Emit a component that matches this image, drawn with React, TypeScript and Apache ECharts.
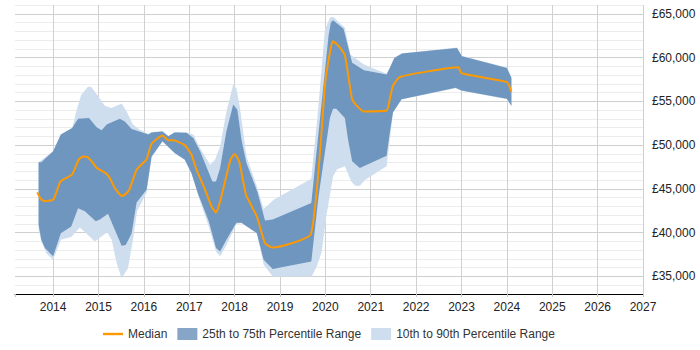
import React, { useEffect, useRef } from "react";
import * as echarts from "echarts";

// Years run as decimal values along the x axis; salaries in GBP.
const yearTicks = [2014, 2015, 2016, 2017, 2018, 2019, 2020, 2021, 2022, 2023, 2024, 2025, 2026, 2027];

const median: [number, number][] = [
  [2013.65, 44600], [2013.73, 43850], [2013.82, 43600], [2014.0, 43750], [2014.07, 44600],
  [2014.16, 45850], [2014.29, 46250], [2014.42, 46650], [2014.57, 48400], [2014.66, 48700],
  [2014.75, 48650], [2014.85, 48150], [2014.97, 47350], [2015.16, 46800], [2015.25, 46250],
  [2015.36, 45100], [2015.51, 44200], [2015.58, 44350], [2015.68, 44900], [2015.84, 47200],
  [2016.06, 48400], [2016.17, 50150], [2016.41, 51100], [2016.54, 50550], [2016.65, 50550],
  [2016.9, 50000], [2017.05, 48900], [2017.16, 47200], [2017.35, 44900], [2017.49, 43000],
  [2017.59, 42300], [2017.68, 43550], [2017.91, 48350], [2018.0, 49000], [2018.1, 48150],
  [2018.25, 44350], [2018.49, 41850], [2018.67, 38800], [2018.84, 38300], [2019.68, 39850],
  [2020.0, 57300], [2020.1, 60550], [2020.16, 61850], [2020.26, 61500], [2020.43, 60250],
  [2020.59, 55250], [2020.74, 54250], [2020.85, 53850], [2021.35, 53950], [2021.42, 55250],
  [2021.49, 56800], [2021.65, 57800], [2022.93, 58900], [2023.0, 58200], [2024.0, 57200],
  [2024.1, 56100],
];

const p75: [number, number][] = [
  [2013.68, 48050], [2013.74, 48050], [2014.0, 49300], [2014.17, 51200], [2014.42, 51950],
  [2014.55, 53000], [2014.79, 53100], [2014.96, 52050], [2015.07, 51700], [2015.18, 52350],
  [2015.47, 53000], [2015.58, 52700], [2015.73, 51850], [2016.1, 51200], [2016.17, 51450],
  [2016.41, 51550], [2016.54, 51000], [2016.68, 51450], [2016.94, 51400], [2017.09, 50800],
  [2017.24, 49300], [2017.51, 45850], [2017.59, 45850], [2017.68, 47400], [2017.82, 51600],
  [2017.97, 54650], [2018.06, 54050], [2018.15, 50650], [2018.26, 47950], [2018.5, 44700],
  [2018.67, 41400], [2018.84, 41500], [2019.69, 43400], [2020.07, 62500], [2020.12, 64000],
  [2020.17, 64250], [2020.4, 63300], [2020.59, 59400], [2020.85, 58550], [2021.35, 58050],
  [2021.42, 58800], [2021.52, 59950], [2021.69, 60450], [2022.9, 61100], [2023.01, 60150],
  [2024.0, 58800], [2024.1, 57700],
];

const p25: [number, number][] = [
  [2013.68, 40900], [2013.74, 39200], [2013.82, 38250], [2014.0, 37300], [2014.17, 39950],
  [2014.4, 40700], [2014.55, 42800], [2014.7, 42450], [2014.94, 41300], [2015.03, 41500],
  [2015.21, 42150], [2015.36, 40350], [2015.51, 38500], [2015.6, 38600], [2015.73, 39950],
  [2015.84, 43450], [2016.06, 44900], [2016.17, 48700], [2016.41, 50450], [2016.68, 49100],
  [2016.9, 48350], [2017.05, 46800], [2017.2, 44350], [2017.43, 41300], [2017.59, 38250],
  [2017.68, 37850], [2017.82, 39200], [2018.04, 41150], [2018.15, 41150], [2018.49, 39950],
  [2018.64, 36900], [2018.84, 35850], [2019.69, 36700], [2019.85, 44150], [2020.1, 53100],
  [2020.17, 54150], [2020.24, 54150], [2020.43, 53100], [2020.5, 50650], [2020.59, 48150],
  [2020.76, 47400], [2021.35, 48800], [2021.42, 51400], [2021.49, 53750], [2021.68, 55250],
  [2022.87, 56550], [2023.0, 56250], [2024.0, 55300], [2024.1, 54500],
];

const p90: [number, number][] = [
  [2013.68, 48050], [2014.0, 49300], [2014.17, 51200], [2014.42, 51950], [2014.52, 54050],
  [2014.62, 55750], [2014.77, 56700], [2014.84, 56650], [2014.99, 55600], [2015.14, 54500],
  [2015.28, 54250], [2015.4, 54500], [2015.51, 54750], [2015.62, 53850], [2015.76, 52350],
  [2015.91, 51750], [2016.1, 51300], [2016.17, 51500], [2016.41, 51600], [2016.54, 51050],
  [2016.68, 51500], [2016.94, 51450], [2017.09, 51200], [2017.24, 49650], [2017.46, 47750],
  [2017.57, 48350], [2017.68, 49850], [2017.82, 53850], [2017.97, 56950], [2018.04, 56500],
  [2018.12, 54200], [2018.26, 48700], [2018.49, 45300], [2018.64, 42700], [2018.86, 43750],
  [2019.69, 46150], [2019.84, 54050], [2019.99, 63200], [2020.1, 64550], [2020.17, 64650],
  [2020.43, 63400], [2020.55, 60350], [2020.85, 59200], [2021.35, 58150], [2021.42, 58850],
  [2021.52, 60000], [2021.69, 60500], [2022.9, 61150], [2023.01, 60200], [2024.0, 58850],
  [2024.1, 57750],
];

const p10: [number, number][] = [
  [2013.68, 40400], [2013.74, 39000], [2013.85, 37650], [2014.0, 36900], [2014.17, 39200],
  [2014.4, 39500], [2014.59, 40600], [2014.92, 39000], [2015.19, 40050], [2015.29, 39200],
  [2015.4, 36500], [2015.51, 34800], [2015.65, 35950], [2015.76, 39200], [2015.85, 42450],
  [2016.06, 44550], [2016.17, 48550], [2016.41, 50400], [2016.68, 49050], [2016.9, 48300],
  [2017.05, 46750], [2017.2, 44150], [2017.43, 40700], [2017.59, 37850], [2017.68, 37300],
  [2017.82, 38600], [2018.04, 41000], [2018.15, 41100], [2018.49, 39900], [2018.64, 36350],
  [2018.84, 35000], [2019.7, 35000], [2019.81, 36150], [2019.92, 37850], [2020.02, 41850],
  [2020.17, 46450], [2020.26, 47250], [2020.43, 47600], [2020.57, 45850], [2020.66, 45350],
  [2020.76, 45350], [2020.88, 46050], [2021.35, 47600], [2021.42, 50650], [2021.49, 53700],
  [2021.68, 55200], [2022.87, 56500], [2023.0, 56200], [2024.0, 55250], [2024.1, 54400],
];

const MEDIAN_NAME = "Median";
const IQR_NAME = "25th to 75th Percentile Range";
const WIDE_NAME = "10th to 90th Percentile Range";

const FONT = "'Liberation Sans', Arial, Helvetica, sans-serif";

// A filled band between an upper and a lower curve, drawn as one polygon
// projected through the cartesian axes.
function bandSeries(name: string, upper: [number, number][], lower: [number, number][], fill: string, z: number) {
  return {
    name,
    type: "custom",
    silent: true,
    z,
    itemStyle: { color: fill },
    data: upper,
    encode: { x: 0, y: 1 },
    renderItem: (params: any, api: any) => {
      if (params.dataIndex !== 0) return null;
      const pts = [
        ...upper.map((p) => api.coord(p)),
        ...lower.slice().reverse().map((p) => api.coord(p)),
      ];
      return { type: "polygon", shape: { points: pts }, style: { fill, stroke: "none" } };
    },
  };
}

export default function App() {
  const ref = useRef<HTMLDivElement>(null);

  useEffect(() => {
    if (!ref.current) return;
    const chart = echarts.init(ref.current, null, { renderer: "svg" });
    chart.setOption({
      animation: false,
      backgroundColor: "#ffffff",
      textStyle: { fontFamily: FONT },
      grid: { left: 15, right: 57, top: 5, bottom: 56, containLabel: false, outerBoundsMode: "none" },
      legend: {
        left: 103,
        top: 328,
        padding: 0,
        itemWidth: 20,
        itemHeight: 12,
        itemGap: 10,
        textStyle: { color: "#333", fontSize: 12, fontFamily: FONT },
        data: [
          { name: MEDIAN_NAME, icon: "path://M0,0H20V2.4H0Z", itemStyle: { color: "#ff9900" } },
          { name: IQR_NAME, icon: "rect", itemStyle: { color: "#87a5c6" } },
          { name: WIDE_NAME, icon: "rect", itemStyle: { color: "#cfdeee" } },
        ],
      },
      xAxis: {
        type: "value",
        min: 2013.16,
        max: yearTicks[yearTicks.length - 1],
        splitNumber: 14,
        axisLine: { show: true, onZero: false, lineStyle: { color: "#000", width: 1 } },
        axisTick: { show: true, length: 3, lineStyle: { color: "#c8c8c8" } },
        axisLabel: {
          color: "#222",
          fontSize: 12,
          fontFamily: FONT,
          margin: 7,
          formatter: (v: number) => {
            const r = Math.round(v);
            return Math.abs(v - r) < 1e-6 && yearTicks.includes(r) ? String(r) : "";
          },
        },
        splitLine: { show: true, showMinLine: false, lineStyle: { color: "#d0d0d0", width: 1 } },
      },
      yAxis: {
        type: "value",
        position: "right",
        min: 33000,
        max: 66000,
        interval: 1000,
        axisLine: { show: false },
        axisTick: { show: false },
        axisLabel: {
          color: "#222",
          fontSize: 12,
          fontFamily: FONT,
          margin: 9,
          formatter: (v: number) => (v % 5000 === 0 ? "£" + v.toLocaleString("en-GB") : ""),
        },
        splitLine: {
          show: true,
          lineStyle: { color: ["#ececec", "#ececec", "#cfcfcf", "#ececec", "#ececec"], width: 1 },
        },
      },
      series: [
        bandSeries(WIDE_NAME, p90, p10, "#cfdeee", 1),
        bandSeries(IQR_NAME, p75, p25, "#6f96bf", 2),
        {
          name: MEDIAN_NAME,
          type: "line",
          z: 3,
          data: median,
          showSymbol: false,
          symbol: "none",
          smooth: 0.15,
          color: "#ff9900",
          lineStyle: { color: "#ff9900", width: 2 },
          itemStyle: { color: "#ff9900" },
        },
      ],
    });
    return () => chart.dispose();
  }, []);

  return (
    <div
      ref={ref}
      style={{ position: "absolute", left: 0, top: 0, width: 700, height: 350 }}
    />
  );
}
